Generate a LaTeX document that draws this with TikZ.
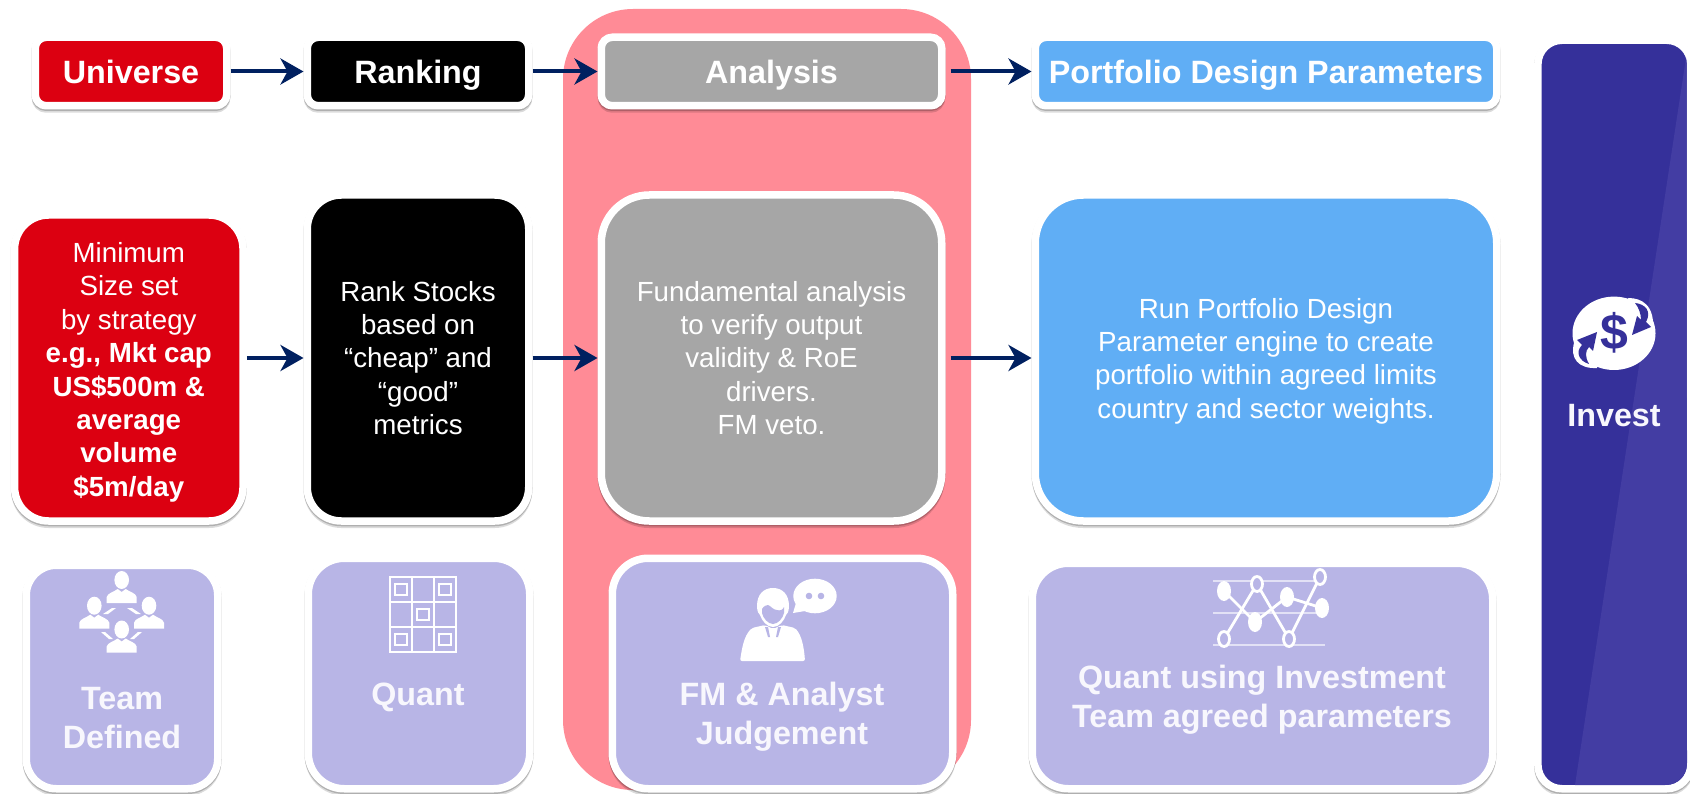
\documentclass[tikz,border=0pt]{standalone}
\usepackage{fontspec}
\setmainfont{Liberation Sans}
\usetikzlibrary{arrows.meta,shadows}
\definecolor{universered}{HTML}{DC0011}
\definecolor{analysisgrey}{HTML}{A6A6A6}
\definecolor{portfolioblue}{HTML}{60AEF5}
\definecolor{whopurple}{HTML}{B8B5E6}
\definecolor{investblue}{HTML}{35309A}
\definecolor{investgloss}{HTML}{433DA3}
\definecolor{arrownavy}{HTML}{002060}
\definecolor{analysispink}{HTML}{FF8B96}
\definecolor{whotext}{HTML}{F8F7FD}
\tikzset{
	boxbase/.style={draw=white,line width=7.5pt,text=white,align=center,
		general shadow={shadow xshift=0pt,shadow yshift=-1.5pt,draw=black,fill=black,line width=7.5pt,opacity=0.2},
		general shadow={shadow xshift=0pt,shadow yshift=-3.5pt,draw=black,fill=black,line width=7pt,opacity=0.14}},
	headbox/.style={boxbase,rounded corners=11pt,minimum height=68.5pt,text height=24pt,text depth=0pt,font=\fontsize{32.3}{39}\selectfont\bfseries},
	bodybox/.style={boxbase,rounded corners=34pt,font=\fontsize{27.7}{33.4}\selectfont},
	whobox/.style={boxbase,fill=whopurple,rounded corners=36pt},
	wholabel/.style={text=whotext,align=center,font=\fontsize{32.3}{39}\selectfont\bfseries},
	flowarrow/.style={draw=arrownavy,line width=4pt,-{Stealth[length=23pt,width=26pt,inset=7pt]}},
	chartline/.style={draw=white,line width=2.8pt},
	chartrule/.style={draw=white,opacity=0.6,line width=1.5pt},
	gridline/.style={draw=white,line width=2.2pt}
}
\def\teamperson(#1,#2){\fill[white] (#1,#2) ellipse (7.3 and 9);
	\fill[white] (#1-15,#2+23) -- (#1-15,#2+17) .. controls (#1-14,#2+13) and (#1-8,#2+12) .. (#1-4,#2+9) -- (#1,#2+12) -- (#1+4,#2+9) .. controls (#1+8,#2+12) and (#1+14,#2+13) .. (#1+15,#2+17) -- (#1+15,#2+23) -- cycle;}

\begin{document}
\begin{tikzpicture}[x=1pt,y=-1pt]
			\useasboundingbox (0,0) rectangle (1690,794);
			\fill[white] (0,0) rectangle (1690,794);
			
			%%%%% BACKGROUND %%%%%
			
			\fill[analysispink,rounded corners=70pt] (563,9) rectangle (971,790);
			
			%%%%% TOP ROW %%%%%
			
			\node[headbox,fill=universered,minimum width=191.5pt] (universe) at (131,71.5) {Universe};
			\node[headbox,fill=black,minimum width=221.5pt] (ranking) at (418,71.5) {Ranking};
			\node[headbox,fill=analysisgrey,minimum width=340.5pt] (analysis) at (771.5,71.5) {Analysis};
			\node[headbox,fill=portfolioblue,minimum width=461.5pt] (portfolio) at (1266,71.5) {Portfolio Design Parameters};
			
			\draw[flowarrow] (universe) -- (ranking);
			\draw[flowarrow] (ranking) -- (analysis);
			\draw[flowarrow,shorten <=5pt] (analysis) -- (portfolio);
			
			%%%%% MIDDLE ROW %%%%%
			
			\node[bodybox,fill=universered,minimum width=228.5pt,minimum height=306pt] (minsize) at (128.8,368) {\rule{0pt}{28.4pt}Minimum\\Size set\\by strategy\\\textbf{e.g., Mkt cap}\\\textbf{US\$500m \&}\\\textbf{average}\\\textbf{volume}\\\textbf{\$5m/day}};
			\node[bodybox,fill=black,minimum width=221.5pt,minimum height=326pt] (rankstocks) at (418,358) {Rank Stocks\\based on\\“cheap” and\\“good”\\metrics};
			\node[bodybox,rounded corners=48pt,fill=analysisgrey,minimum width=340.5pt,minimum height=326pt] (fundamental) at (771.5,358) {Fundamental analysis\\to verify output\\validity \& RoE\\drivers.\\FM veto.};
			\node[bodybox,rounded corners=48pt,fill=portfolioblue,minimum width=461.5pt,minimum height=326pt] (engine) at (1266,358) {\rule{0pt}{26pt}Run Portfolio Design\\Parameter engine to create\\portfolio within agreed limits\\country and sector weights.};
			
			\draw[flowarrow] (minsize.east |- rankstocks.west) -- (rankstocks.west);
			\draw[flowarrow] (rankstocks) -- (fundamental);
			\draw[flowarrow,shorten <=5pt] (fundamental) -- (engine);
			
			%%%%% BOTTOM ROW %%%%%
			
			\node[whobox,rounded corners=30pt,minimum width=191.5pt,minimum height=223.5pt] (teambox) at (122,677) {};
			\node[whobox,minimum width=221.5pt,minimum height=230.5pt] (quantbox) at (419,673.5) {};
			\node[whobox,minimum width=340.5pt,minimum height=230.5pt] (fmbox) at (782.5,673.5) {};
			\node[whobox,minimum width=460.5pt,minimum height=225.5pt] (paramsbox) at (1262.5,676) {};
			
			\node[wholabel] (teamlabel) at (122,718) {Team\\Defined};
			\node[wholabel] (quantlabel) at (418,697) {Quant};
			\node[wholabel] (fmlabel) at (782,717) {FM \& Analyst\\Judgement};
			\node[wholabel] (paramslabel) at (1262,700) {Quant using Investment\\Team agreed parameters};
			
			% team icon
			\teamperson(121.7,580)
			\teamperson(94.3,605.7)
			\teamperson(149,605.7)
			\teamperson(121.7,629.5)
			\fill[white] (103,614) -- (112,608) -- (116,608) -- (108,614) -- cycle;
			\fill[white] (141,614) -- (132,608) -- (127,608) -- (136,614) -- cycle;
			\fill[white] (101,632) -- (105,632) -- (113,639) -- (109,639) -- cycle;
			\fill[white] (142,632) -- (138,632) -- (130,639) -- (134,639) -- cycle;
			
			% quant icon
			\draw[gridline] (390,577) rectangle (456,652);
			\draw[gridline] (412,577) -- (412,652);
			\draw[gridline] (434,577) -- (434,652);
			\draw[gridline] (390,602) -- (456,602);
			\draw[gridline] (390,627) -- (456,627);
			\draw[gridline] (395,584) rectangle (407,595);
			\draw[gridline] (439,584) rectangle (451,595);
			\draw[gridline] (417,609) rectangle (429,620);
			\draw[gridline] (395,634) rectangle (407,645);
			\draw[gridline] (439,634) rectangle (451,645);
			
			% analyst icon
			\fill[white] (757,606) .. controls (757,594) and (764,588) .. (773,588) .. controls (782,588) and (789,594) .. (789,606) .. controls (789,612) and (787,614) .. (786,615) .. controls (784,621) and (779,627) .. (773,627) .. controls (767,627) and (762,621) .. (760,615) .. controls (759,614) and (757,612) .. (757,606) -- cycle;
			\fill[whopurple] (762,609) .. controls (764,606) and (766,605) .. (768,605) .. controls (771,606) and (773,610) .. (777,610) .. controls (780,611) and (783,610) .. (784,607) -- (784,613) .. controls (783,618) and (778,624) .. (773,624) .. controls (768,624) and (763,618) .. (762,613) -- cycle;
			\fill[white,rounded corners=2pt] (740,661) .. controls (742,648) and (744,636) .. (752,628) -- (765,625) -- (773,629) -- (782,625) -- (795,628) .. controls (802,636) and (804,648) .. (805,661) -- cycle;
			\fill[whopurple] (765,627) -- (768,627) -- (770,637) -- (768,637) -- cycle;
			\fill[whopurple] (781,627) -- (778,627) -- (776,637) -- (778,637) -- cycle;
			\fill[white] (815,596) ellipse (21.7 and 17.3);
			\fill[white] (796,603) -- (793,613) -- (805,611) -- cycle;
			\fill[whopurple] (809,596) circle (3.3);
			\fill[whopurple] (821,596) circle (3.3);
			
			% chart icon
			\draw[chartrule] (1213,581) -- (1325,581);
			\draw[chartrule] (1213,613) -- (1325,613);
			\draw[chartrule] (1213,645) -- (1325,645);
			\draw[chartline] (1224,591) -- (1255,622) -- (1287,597) -- (1322,608);
			\fill[white] (1224,591) ellipse (7 and 10);
			\fill[white] (1255,622) ellipse (7 and 10);
			\fill[white] (1287,597) ellipse (7 and 10);
			\fill[white] (1322,608) ellipse (7 and 10);
			\draw[chartline] (1224,639) -- (1257,584) -- (1289,639) -- (1320,577);
			\draw[chartline,fill=whopurple] (1224,639) ellipse (5.5 and 7.5);
			\draw[chartline,fill=whopurple] (1257,584) ellipse (5.5 and 7.5);
			\draw[chartline,fill=whopurple] (1289,639) ellipse (5.5 and 7.5);
			\draw[chartline,fill=whopurple] (1320,577) ellipse (5.5 and 7.5);
			
			%%%%% INVEST %%%%%
			
			\node[boxbase,fill=investblue,rounded corners=24pt,minimum width=152.8pt,minimum height=748.5pt] (investbox) at (1614.3,414.5) {};
			\fill[investgloss] (1686,58) -- (1687,763) arc (0:90:22) -- (1575,785) -- cycle;
			\node[wholabel] (investlabel) at (1614,416) {Invest};
			
			\fill[white] (1614,333.3) ellipse (41.5 and 36.7);
			\fill[white] (1628,298) .. controls (1642,298) and (1655,305) .. (1653,331) -- (1640,331) -- cycle;
			\fill[white] (1574,343) .. controls (1570,358) and (1578,369) .. (1597,368) -- (1597,350) -- cycle;
			\fill[investblue] (1632,335) -- (1637,316) -- (1641,320) .. controls (1641,314) and (1639,308) .. (1635,303) .. controls (1645,304) and (1652,311) .. (1646,322) -- (1651,327) -- cycle;
			\fill[investblue] (1577,340) -- (1597,332) -- (1593,351) -- (1589,347) .. controls (1585,351) and (1585,357) .. (1589,364) .. controls (1579,361) and (1575,352) .. (1582,345) -- cycle;
			\node[text=investblue,font=\fontsize{50}{50}\selectfont\bfseries] (dollarsign) at (1614,333) {\$};
			
			%%%%% END %%%%%
		\end{tikzpicture}
\end{document}
